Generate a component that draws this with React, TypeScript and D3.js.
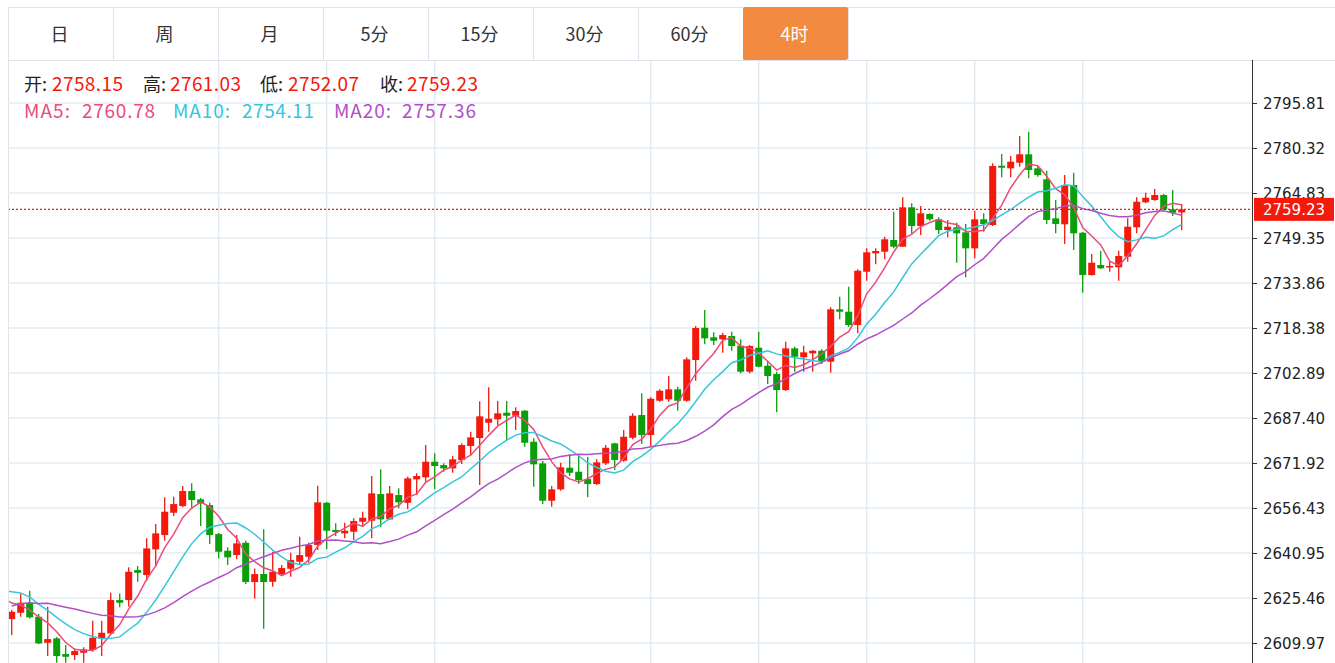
import React from 'react';
import * as d3 from 'd3';

const tabs = ['日', '周', '月', '5分', '15分', '30分', '60分', '4时'];
const activeTab = '4时';

// 19 closes before the visible window (only used for the moving averages)
const priorCloses = [
  2608, 2612, 2615, 2611, 2618, 2620, 2619, 2624, 2626, 2626,
  2628, 2633, 2635, 2632, 2630, 2627.3, 2627.5, 2621.5, 2621.9,
];

const opens = [
  2618.30, 2620.47, 2623.91, 2619.10, 2610.15, 2611.66, 2606.26, 2605.92, 2606.71, 2607.64,
  2611.66, 2613.38, 2624.84, 2624.84, 2635.16, 2633.44, 2642.28, 2647.20, 2654.87, 2657.18,
  2662.34, 2659.48, 2657.52, 2647.54, 2641.80, 2640.32, 2644.55, 2631.03, 2633.78, 2631.14,
  2633.78, 2635.61, 2638.02, 2639.74, 2643.76, 2658.31, 2648.92, 2647.78, 2648.34, 2651.78,
  2652.12, 2661.30, 2652.60, 2660.96, 2658.31, 2666.36, 2667.05, 2672.42, 2671.28, 2670.14,
  2673.00, 2677.82, 2680.57, 2685.83, 2687.00, 2689.27, 2688.24, 2689.96, 2679.30, 2671.86,
  2659.00, 2662.92, 2670.35, 2668.98, 2666.46, 2664.74, 2671.86, 2678.74, 2672.76, 2680.67,
  2688.48, 2681.60, 2693.40, 2693.88, 2697.32, 2693.40, 2707.40, 2718.51, 2715.21, 2714.52,
  2715.66, 2712.32, 2703.38, 2711.63, 2705.44, 2702.58, 2697.08, 2711.42, 2708.33, 2709.70,
  2710.60, 2706.82, 2724.84, 2724.02, 2719.44, 2737.78, 2744.10, 2744.66, 2748.68, 2746.38,
  2759.93, 2753.50, 2757.62, 2755.80, 2752.12, 2753.05, 2751.33, 2745.82, 2755.80, 2753.84,
  2774.24, 2773.34, 2775.27, 2778.16, 2773.34, 2769.56, 2756.14, 2754.08, 2767.60, 2751.19,
  2736.64, 2740.08, 2739.29, 2739.29, 2742.94, 2753.05, 2761.65, 2762.44, 2764.16, 2759.24,
  2758.15,
];

const highs = [
  2621.40, 2626.90, 2628.04, 2620.02, 2622.54, 2612.11, 2609.36, 2608.22, 2608.57, 2617.72,
  2617.72, 2627.35, 2627.14, 2636.09, 2636.54, 2646.06, 2650.98, 2660.17, 2660.38, 2664.06,
  2664.98, 2659.93, 2658.31, 2647.89, 2642.97, 2647.20, 2645.24, 2635.74, 2649.16, 2641.46,
  2636.88, 2641.11, 2646.62, 2644.55, 2664.16, 2658.55, 2651.22, 2651.43, 2652.94, 2655.22,
  2667.50, 2669.80, 2664.06, 2663.26, 2667.26, 2668.42, 2678.16, 2675.30, 2671.86, 2674.38,
  2678.74, 2682.74, 2693.19, 2698.01, 2693.30, 2693.30, 2691.13, 2690.20, 2680.46, 2672.66,
  2664.06, 2672.07, 2675.06, 2674.38, 2674.14, 2673.24, 2678.16, 2678.95, 2683.32, 2689.06,
  2695.94, 2694.57, 2697.32, 2701.90, 2698.22, 2708.33, 2719.10, 2724.60, 2716.93, 2716.79,
  2717.14, 2714.52, 2712.56, 2717.14, 2706.82, 2703.38, 2713.70, 2711.98, 2712.32, 2710.84,
  2711.08, 2725.53, 2729.18, 2732.62, 2738.60, 2745.82, 2745.82, 2749.82, 2758.42, 2763.37,
  2761.30, 2760.38, 2757.86, 2756.49, 2755.56, 2754.63, 2754.18, 2758.76, 2757.86, 2775.06,
  2778.26, 2777.58, 2784.46, 2785.94, 2774.48, 2772.52, 2762.44, 2771.04, 2771.83, 2751.43,
  2743.86, 2745.00, 2741.22, 2745.00, 2756.14, 2763.37, 2764.95, 2766.22, 2764.50, 2765.88,
  2761.03,
];

const lows = [
  2612.80, 2619.10, 2618.54, 2609.70, 2605.58, 2603.27, 2603.27, 2604.20, 2603.27, 2607.06,
  2605.58, 2613.14, 2622.33, 2622.54, 2631.14, 2631.48, 2636.30, 2645.24, 2653.74, 2656.73,
  2656.04, 2650.30, 2644.10, 2639.18, 2636.88, 2638.84, 2630.34, 2625.29, 2614.97, 2629.42,
  2633.10, 2632.86, 2636.88, 2637.67, 2642.04, 2642.28, 2646.86, 2646.06, 2645.48, 2650.06,
  2646.06, 2649.85, 2652.36, 2656.38, 2656.04, 2660.96, 2665.54, 2662.92, 2668.98, 2668.63,
  2671.62, 2674.72, 2664.40, 2682.74, 2685.04, 2679.88, 2683.32, 2677.58, 2663.82, 2657.86,
  2656.94, 2662.44, 2667.50, 2664.74, 2660.17, 2664.40, 2671.28, 2669.56, 2672.42, 2680.12,
  2678.50, 2677.82, 2693.06, 2693.06, 2689.96, 2693.06, 2700.28, 2712.80, 2712.56, 2709.91,
  2710.60, 2702.82, 2702.82, 2704.89, 2699.14, 2689.41, 2696.74, 2703.38, 2703.38, 2703.38,
  2706.02, 2703.03, 2721.40, 2718.86, 2716.58, 2734.68, 2740.32, 2742.04, 2745.82, 2746.27,
  2750.98, 2750.40, 2755.32, 2750.74, 2749.61, 2740.87, 2735.85, 2742.38, 2751.54, 2753.50,
  2770.25, 2770.25, 2773.90, 2769.90, 2770.46, 2754.18, 2750.98, 2747.30, 2745.24, 2730.55,
  2736.47, 2738.70, 2737.78, 2734.68, 2741.22, 2750.98, 2761.30, 2762.20, 2759.00, 2756.94,
  2752.07,
];

const closes = [
  2620.82, 2623.91, 2618.89, 2609.94, 2611.42, 2605.58, 2605.34, 2607.30, 2607.88, 2611.87,
  2613.59, 2624.84, 2623.91, 2634.58, 2634.23, 2642.62, 2647.78, 2655.22, 2657.86, 2662.34,
  2659.24, 2658.10, 2647.20, 2641.46, 2639.53, 2644.34, 2631.03, 2633.78, 2631.03, 2634.58,
  2635.85, 2638.60, 2640.32, 2643.76, 2658.45, 2648.68, 2648.23, 2648.68, 2652.02, 2653.15,
  2661.54, 2652.60, 2661.54, 2658.45, 2666.70, 2667.50, 2672.42, 2670.94, 2670.14, 2673.24,
  2678.16, 2680.81, 2688.03, 2687.21, 2689.06, 2688.24, 2689.86, 2678.95, 2671.52, 2659.00,
  2662.92, 2670.49, 2668.63, 2666.12, 2664.74, 2672.21, 2677.23, 2673.00, 2681.02, 2688.24,
  2681.60, 2694.09, 2696.84, 2697.32, 2693.40, 2707.64, 2718.41, 2714.86, 2714.04, 2716.00,
  2712.22, 2703.38, 2712.22, 2705.10, 2701.90, 2697.08, 2711.42, 2708.54, 2710.05, 2710.60,
  2706.82, 2724.84, 2724.02, 2719.44, 2738.12, 2744.45, 2744.90, 2748.92, 2746.38, 2759.93,
  2753.50, 2757.86, 2755.80, 2752.12, 2753.26, 2750.98, 2745.82, 2755.80, 2754.18, 2774.14,
  2773.55, 2775.62, 2778.16, 2772.76, 2771.04, 2755.56, 2754.18, 2767.60, 2750.98, 2736.64,
  2740.87, 2738.94, 2739.74, 2743.18, 2753.26, 2761.86, 2763.23, 2764.16, 2759.24, 2758.07,
  2759.23,
];

const yTicks = [2609.97, 2625.46, 2640.95, 2656.43, 2671.92, 2687.40, 2702.89, 2718.38, 2733.86, 2749.35, 2764.83, 2780.32, 2795.81];
const dayBreaks = [23, 35, 47, 71, 83, 95, 107, 119];

const ohlcLabels = ['开', '高', '低', '收'];
const ohlcValues = ['2758.15', '2761.03', '2752.07', '2759.23'];
const maPeriods = [5, 10, 20];
const maValues = ['2760.78', '2754.11', '2757.36'];
const maColors = ['#ea4c7c', '#35c6dc', '#b04fc6'];

const UP = '#f31a0c';
const DOWN = '#0a9e0a';
const GRID = '#e3ebf2';
const CJK = '"Noto Sans CJK SC", "Noto Sans", sans-serif';
const NUMF = '"DejaVu Sans", Verdana, sans-serif';

export default function App() {
  const W = 1335, H = 663;
  const left = 8, axisX = 1252, top = 60, tabTop = 7;
  const n = closes.length;
  const x = d3.scaleLinear().domain([0, n - 1]).range([11.7, 1181.7]);
  const y = d3.scaleLinear().domain([2609.97, 2795.81]).range([643.3, 103]);

  const all = priorCloses.concat(closes);
  const off = priorCloses.length;
  const maSeries = maPeriods.map((p) => {
    const pts: [number, number][] = [];
    for (let k = p - 1; k < all.length; k++) {
      const i = k - off;
      if (i < -1) continue;
      const m = d3.mean(all.slice(k - p + 1, k + 1)) as number;
      pts.push([i, m]);
    }
    return pts;
  });
  const line = d3.line<[number, number]>().x((d) => x(d[0])).y((d) => y(d[1]));

  const tabW = 105;
  const last = closes[n - 1];
  const bodyW = 7;

  const ohlcX = [24, 143, 260, 380];
  const ohlcValX = [52, 170, 288, 407];
  const maX = [24, 173, 334];
  const maLabW = [46, 57, 57];
  const maValX = [82, 242, 402];
  const maValW = [73, 72, 74];

  return (
    <svg width={W} height={H} style={{ position: 'absolute', left: 0, top: 0, background: '#fff' }}>
      <defs>
        <clipPath id="plot">
          <rect x={left + 1} y={top + 1} width={axisX - left - 1} height={H - top} />
        </clipPath>
      </defs>
      {/* tabs */}
      <line x1={left} x2={W} y1={tabTop + 0.5} y2={tabTop + 0.5} stroke="#dde3e8" />
      <line x1={left} x2={W} y1={top + 0.5} y2={top + 0.5} stroke="#dde3e8" />
      <line x1={left + 0.5} x2={left + 0.5} y1={tabTop} y2={H} stroke="#dde3e8" />
      {tabs.map((t, i) => {
        const tx = left + i * tabW;
        const active = t === activeTab;
        return (
          <g key={t}>
            {active && <rect x={tx} y={tabTop} width={tabW} height={top - tabTop} fill="#f28b3f" rx={2} />}
            <line x1={tx + tabW + 0.5} x2={tx + tabW + 0.5} y1={tabTop} y2={top} stroke="#dde3e8" />
            <text x={tx + tabW / 2 - 1} y={41} textAnchor="middle" fontSize={18} fontFamily={CJK} fill={active ? '#fff' : '#333'}>{t}</text>
          </g>
        );
      })}

      {/* grid */}
      {yTicks.map((v) => (
        <line key={v} x1={left} x2={axisX} y1={Math.round(y(v))} y2={Math.round(y(v))} stroke={GRID} strokeWidth={1.5} />
      ))}
      {dayBreaks.map((i) => (
        <line key={i} x1={x(i)} x2={x(i)} y1={top} y2={H} stroke={GRID} strokeWidth={1.5} />
      ))}

      {/* candles */}
      <g clipPath="url(#plot)">
        {closes.map((c, i) => {
          const o = opens[i];
          const up = c >= o;
          const col = up ? UP : DOWN;
          const cx = x(i);
          const yt = y(Math.max(o, c));
          const yb = y(Math.min(o, c));
          return (
            <g key={i}>
              <line x1={cx} x2={cx} y1={y(highs[i])} y2={y(lows[i])} stroke={col} strokeWidth={1.3} />
              <rect x={cx - bodyW / 2} y={yt} width={bodyW} height={Math.max(1.5, yb - yt)} fill={col} />
            </g>
          );
        })}
        {maSeries.map((pts, k) => (
          <path key={k} d={line(pts) || ''} fill="none" stroke={maColors[k]} strokeWidth={1.5} />
        ))}
        <line x1={left} x2={axisX} y1={y(last)} y2={y(last)} stroke={UP} strokeDasharray="2,2" strokeWidth={1.2} />
      </g>

      {/* legend */}
      {ohlcLabels.map((l, i) => (
        <g key={l}>
          <text x={ohlcX[i]} y={91} fontSize={18} fontFamily={CJK} fill="#222">{l}:</text>
          <text x={ohlcValX[i]} y={91} fontSize={19} fontFamily={CJK} fill="#f21a0a" textLength={71} lengthAdjust="spacing">{ohlcValues[i]}</text>
        </g>
      ))}
      {maPeriods.map((p, i) => (
        <g key={p}>
          <text x={maX[i]} y={118} fontSize={19} fontFamily={CJK} fill={maColors[i]} textLength={maLabW[i]} lengthAdjust="spacing">MA{p}:</text>
          <text x={maValX[i]} y={118} fontSize={19} fontFamily={CJK} fill={maColors[i]} textLength={maValW[i]} lengthAdjust="spacing">{maValues[i]}</text>
        </g>
      ))}

      {/* right axis */}
      <line x1={axisX + 0.5} x2={axisX + 0.5} y1={top} y2={H} stroke="#333" strokeWidth={1} />
      {yTicks.map((v) => (
        <g key={v}>
          <line x1={axisX} x2={axisX + 5} y1={Math.round(y(v)) + 0.5} y2={Math.round(y(v)) + 0.5} stroke="#333" />
          <text x={axisX + 11} y={y(v) + 6} fontSize={15} fontFamily={NUMF} fill="#222">{v.toFixed(2)}</text>
        </g>
      ))}
      <rect x={axisX + 2} y={y(last) - 11.5} width={80} height={23} fill={UP} />
      <text x={axisX + 42} y={y(last) + 5.5} textAnchor="middle" fontSize={15} fontFamily={NUMF} fill="#fff">{last.toFixed(2)}</text>
    </svg>
  );
}
